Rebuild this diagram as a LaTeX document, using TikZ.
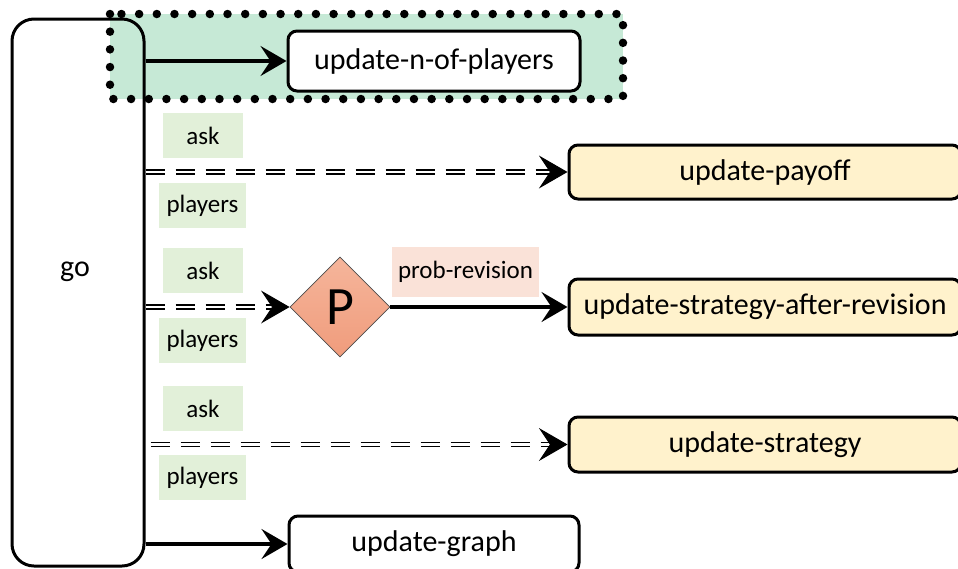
\documentclass[tikz,border=0pt]{standalone}
\usepackage{fontspec}
\setmainfont{Carlito}
\usetikzlibrary{arrows.meta,shapes.geometric,calc}
\definecolor{mint}{HTML}{C6E9D6}
\definecolor{lblgreen}{HTML}{E2F0D9}
\definecolor{procyellow}{HTML}{FFF2CC}
\definecolor{lblpink}{HTML}{FAE2D8}
\definecolor{diatop}{HTML}{F5B59B}
\definecolor{diabot}{HTML}{F09C7C}
\tikzset{
  mainfont/.style={font=\fontsize{30}{34}\selectfont},
  proc/.style={draw=black, line width=3pt, rounded corners=9pt, fill=white, mainfont, inner sep=0pt},
  procy/.style={proc, fill=procyellow},
  lbl/.style={fill=lblgreen, font=\fontsize{25}{29}\selectfont, inner sep=0pt, minimum height=45pt},
  arr/.style={line width=3.4pt, -{Stealth[length=26pt, width=30pt, inset=10pt]}},
  ddash/.style={draw=black, line width=1.3pt, double=white, double distance=2.8pt, dash pattern=on 19pt off 11pt},
  tiphead/.style={fill=black, draw=black, line width=1pt, line join=miter},
}
\begin{document}
\begin{tikzpicture}[x=1pt,y=-1pt]
\useasboundingbox (0,0) rectangle (958,568);
\fill[white] (0,0) rectangle (958,568);
% green group fill
\fill[mint] (110,14) rectangle (623,99);
% go box
\node[draw=black, line width=3pt, rounded corners=22pt, minimum width=132pt, minimum height=547pt, inner sep=0pt] (go) at (78,292.5) {};
\node[mainfont] (gotext) at (75,272) {go};
% dotted border of group
\draw[line width=8.5pt, line cap=round, dash pattern=on 0pt off 17.68pt] (110,14) rectangle (623,99);
% process nodes
\node[proc, minimum width=292pt, minimum height=60pt] (unp) at (434,61) {update-n-of-players};
\node[procy, minimum width=392pt, minimum height=54pt] (pay) at (765,172) {update-payoff};
\node[procy, minimum width=392pt, minimum height=56pt] (usar) at (765,307) {update-strategy-after-revision};
\node[procy, minimum width=392pt, minimum height=55pt] (ust) at (765,444.5) {update-strategy};
\node[proc, minimum width=290pt, minimum height=56pt] (ug) at (434,544) {update-graph};
% diamond
\node[diamond, aspect=1, minimum width=100pt, minimum height=100pt, inner sep=0pt, draw=black!70, line width=0.8pt, top color=diatop, bottom color=diabot, font=\fontsize{54}{58}\selectfont] (P) at (340,307) {P};
% labels
\node[lbl, minimum width=80pt] (ask1) at (203,135.5) {ask};
\node[lbl, minimum width=87pt] (pl1) at (202.5,205.5) {players};
\node[lbl, minimum width=80pt] (ask2) at (203,270.5) {ask};
\node[lbl, minimum width=87pt] (pl2) at (202.5,340.5) {players};
\node[lbl, minimum width=80pt] (ask3) at (203,408.5) {ask};
\node[lbl, minimum width=87pt] (pl3) at (202.5,477.5) {players};
\node[fill=lblpink, font=\fontsize{25}{29}\selectfont, inner sep=0pt, minimum width=147pt, minimum height=50pt] (pr) at (465.5,272) {prob-revision};
% solid connectors
\draw[arr] (go.east |- unp.west) -- (unp.west);
\draw[arr] (go.east |- ug.west) -- (ug.west);
\draw[arr] (P.east) -- (usar.west);
% dashed double connectors
\draw[ddash, shorten >=18pt] (go.east |- pay.west) -- (pay.west);
\draw[tiphead] ($(pay.west)+(-1pt,0)$) -- ++(-26pt,-15pt) -- ++(10pt,15pt) -- ++(-10pt,15pt) -- cycle;
\draw[ddash, shorten >=18pt] (go.east |- P.west) -- (P.west);
\draw[tiphead] ($(P.west)+(-1pt,0)$) -- ++(-26pt,-15pt) -- ++(10pt,15pt) -- ++(-10pt,15pt) -- cycle;
\draw[ddash, shorten >=18pt] ($(go.east |- ust.west)+(5pt,0)$) -- (ust.west);
\draw[tiphead] ($(ust.west)+(-1pt,0)$) -- ++(-26pt,-15pt) -- ++(10pt,15pt) -- ++(-10pt,15pt) -- cycle;
\end{tikzpicture}
\end{document}
